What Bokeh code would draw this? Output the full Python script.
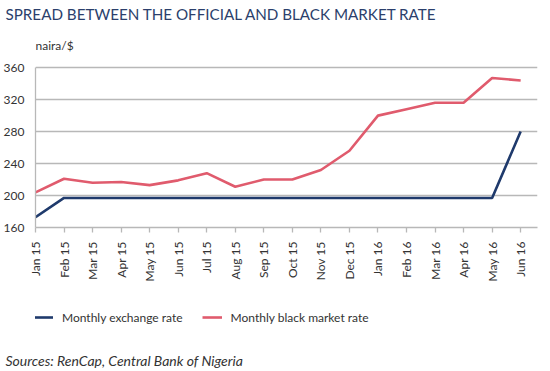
from bokeh.plotting import figure
from bokeh.layouts import column
from bokeh.models import Legend, LegendItem, FixedTicker, Range1d, Title, Label
from bokeh.embed import file_html
from bokeh.resources import INLINE

months = ["Jan 15", "Feb 15", "Mar 15", "Apr 15", "May 15", "Jun 15", "Jul 15", "Aug 15",
          "Sep 15", "Oct 15", "Nov 15", "Dec 15", "Jan 16", "Feb 16", "Mar 16", "Apr 16",
          "May 16", "Jun 16"]
official = [173, 197, 197, 197, 197, 197, 197, 197, 197, 197, 197, 197, 197, 197, 197, 197, 197, 280]
black = [204, 221, 216, 217, 213, 219, 228, 211, 220, 220, 232, 256, 300, 308, 316, 316, 347, 344]
y_ticks = [160, 200, 240, 280, 320, 360]
series_names = ["Monthly exchange rate", "Monthly black market rate"]

FONT = "Lato"
DARK = "#1f3a6c"
PINK = "#e05b6d"
GRID = "#b8b8b8"
TXT = "#333333"
W = 540
Y_MIN, Y_MAX = 160, 360
Y_TOP = 416.5      # headroom above the axis so the unit label sits inside the frame

xs = list(range(len(months)))

p = figure(width=W, height=285, output_backend="svg", toolbar_location=None, title=None,
           x_range=Range1d(0, 17.59), y_range=Range1d(Y_MIN, Y_TOP),
           min_border_left=27, min_border_right=3, min_border_top=22, min_border_bottom=58)
p.outline_line_color = None

p.line(xs, official, line_color=DARK, line_width=2.6)
p.line(xs, black, line_color=PINK, line_width=2.6)

p.xgrid.visible = False
p.ygrid.ticker = FixedTicker(ticks=y_ticks)
p.ygrid.grid_line_color = GRID
p.ygrid.grid_line_width = 1.3

p.yaxis.ticker = FixedTicker(ticks=y_ticks)
p.yaxis.bounds = (Y_MIN, Y_MAX)
p.yaxis.major_tick_line_color = None
p.yaxis.minor_tick_line_color = None
p.yaxis.axis_line_color = GRID
p.yaxis.axis_line_width = 1.3
p.yaxis.major_label_standoff = 5
p.yaxis.major_label_text_font = FONT
p.yaxis.major_label_text_font_size = "12px"
p.yaxis.major_label_text_color = TXT

p.xaxis.ticker = FixedTicker(ticks=xs)
p.xaxis.major_label_overrides = {i: m for i, m in enumerate(months)}
p.xaxis.major_label_orientation = 1.5708
p.xaxis.major_tick_out = 5
p.xaxis.major_tick_in = 0
p.xaxis.minor_tick_line_color = None
p.xaxis.major_tick_line_color = GRID
p.xaxis.major_tick_line_width = 1.3
p.xaxis.axis_line_color = GRID
p.xaxis.axis_line_width = 1.3
p.xaxis.major_label_standoff = 9
p.xaxis.major_label_text_font = FONT
p.xaxis.major_label_text_font_size = "12px"
p.xaxis.major_label_text_color = TXT

p.add_layout(Label(x=0, y=388, text="naira/$", text_font=FONT, text_font_size="12px",
                   text_color=TXT, text_baseline="middle"))
p.add_layout(Title(text="SPREAD BETWEEN THE OFFICIAL AND BLACK MARKET RATE", align="left",
                   offset=-30, text_font=FONT, text_font_size="15.2px",
                   text_font_style="normal", text_color="#2b3f6c", standoff=0), "above")

# bottom strip: legend and source note
p2 = figure(width=W, height=84, output_backend="svg", toolbar_location=None, title=None,
            x_range=Range1d(0, 1), y_range=Range1d(0, 1),
            x_axis_type=None, y_axis_type=None, min_border=0)
p2.outline_line_color = None
p2.grid.visible = False
l1 = p2.line(xs, official, line_color=DARK, line_width=2.6)
l2 = p2.line(xs, black, line_color=PINK, line_width=2.6)
legend = Legend(items=[LegendItem(label=series_names[0], renderers=[l1]),
                       LegendItem(label=series_names[1], renderers=[l2])],
                orientation="horizontal", location=(-2, 23),
                border_line_color=None, background_fill_alpha=0,
                padding=0, margin=0, spacing=19, glyph_width=20, glyph_height=16,
                label_standoff=9, label_text_font=FONT, label_text_font_size="12px",
                label_text_color=TXT)
p2.add_layout(legend, "center")
p2.add_layout(Title(text="Sources: RenCap, Central Bank of Nigeria", align="left",
                    offset=-30, text_font=FONT, text_font_size="14px",
                    text_font_style="italic", text_color=TXT, standoff=2), "below")

open("out.html", "w").write(file_html(column(p, p2, spacing=0), INLINE))
